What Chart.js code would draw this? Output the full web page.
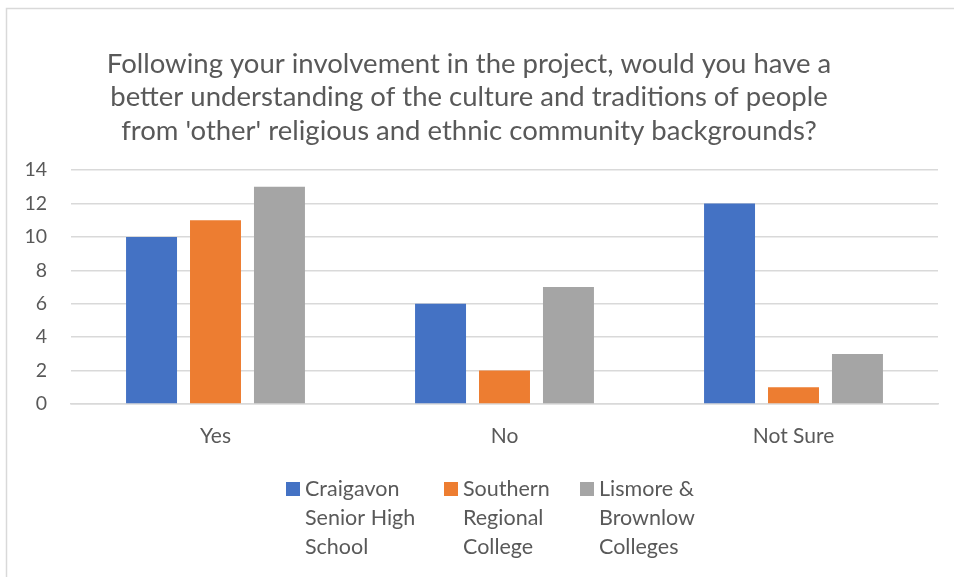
<!DOCTYPE html>
<html>
<head>
<meta charset="utf-8">
<script src="https://cdn.jsdelivr.net/npm/chart.js@4/dist/chart.umd.min.js"></script>
<style>
  html, body { margin: 0; padding: 0; background: #ffffff; }
  #wrap { position: relative; width: 954px; height: 577px; }
</style>
</head>
<body>
<div id="wrap"><canvas id="c" width="954" height="577"></canvas></div>
<script>
// Survey answers per school
const categories = ['Yes', 'No', 'Not Sure'];
const seriesNames = ['Craigavon Senior High School', 'Southern Regional College', 'Lismore & Brownlow Colleges'];
const legendLines = [
  ['Craigavon', 'Senior High', 'School'],
  ['Southern', 'Regional', 'College'],
  ['Lismore &', 'Brownlow', 'Colleges']
];
const craigavon = [10, 6, 12];
const southern = [11, 2, 1];
const lismore = [13, 7, 3];
const titleLines = [
  'Following your involvement in the project, would you have a',
  'better understanding of the culture and traditions of people',
  "from 'other' religious and ethnic community backgrounds?"
];
const yTicks = [0, 2, 4, 6, 8, 10, 12, 14];

const colors = ['#4472C4', '#ED7D31', '#A5A5A5'];
const textColor = '#595959';
const fontFamily = 'Lato, "Open Sans", sans-serif';

// Outer frame of the chart (left and top edges)
const framePlugin = {
  id: 'frame',
  beforeDraw(chart) {
    const ctx = chart.ctx;
    ctx.save();
    ctx.strokeStyle = '#d9d9d9';
    ctx.lineWidth = 1.5;
    ctx.beginPath();
    ctx.moveTo(6.5, chart.height + 2);
    ctx.lineTo(6.5, 8.5);
    ctx.lineTo(chart.width + 2, 8.5);
    ctx.stroke();
    ctx.restore();
  }
};

// Legend with wrapped labels, drawn under the axis
const wrappedLegend = {
  id: 'wrappedLegend',
  afterDraw(chart) {
    const ctx = chart.ctx;
    const xs = [286, 444, 580];
    const top = 482;
    const lineH = 29;
    ctx.save();
    ctx.font = '21.5px ' + fontFamily;
    ctx.textBaseline = 'middle';
    ctx.textAlign = 'left';
    chart.data.datasets.forEach((ds, i) => {
      ctx.fillStyle = ds.backgroundColor;
      ctx.fillRect(xs[i], top, 14, 14);
      ctx.fillStyle = textColor;
      legendLines[i].forEach((line, j) => {
        ctx.fillText(line, xs[i] + 19, top + 7 + j * lineH);
      });
    });
    ctx.restore();
  }
};

const datasets = [craigavon, southern, lismore].map((vals, i) => ({
  label: seriesNames[i],
  data: vals,
  backgroundColor: colors[i],
  borderWidth: 0,
  categoryPercentage: 0.664,
  barPercentage: 0.797
}));

new Chart(document.getElementById('c'), {
  type: 'bar',
  data: { labels: categories, datasets },
  options: {
    responsive: false,
    animation: false,
    layout: { padding: { left: 0, right: 16, top: 20, bottom: 113 } },
    plugins: {
      legend: { display: false },
      tooltip: { enabled: false },
      title: {
        display: true,
        text: titleLines,
        color: textColor,
        font: { family: fontFamily, size: 27.5, weight: 'normal', lineHeight: 1.22 },
        padding: { top: 27, bottom: 22.5 }
      }
    },
    scales: {
      x: {
        grid: { display: false, drawTicks: false },
        border: { display: true, color: '#d9d9d9', width: 1.5 },
        ticks: { color: textColor, font: { family: fontFamily, size: 21 }, padding: 20 },
        afterFit(scale) { scale.height = 60; }
      },
      y: {
        min: 0,
        max: 14,
        afterBuildTicks(scale) { scale.ticks = yTicks.map(v => ({ value: v })); },
        grid: { color: '#d9d9d9', lineWidth: 1.5, drawTicks: false },
        border: { display: false },
        ticks: { color: textColor, font: { family: fontFamily, size: 19.5 }, padding: 24 },
        afterFit(scale) { scale.width = 71; }
      }
    }
  },
  plugins: [framePlugin, wrappedLegend]
});
</script>
</body>
</html>
